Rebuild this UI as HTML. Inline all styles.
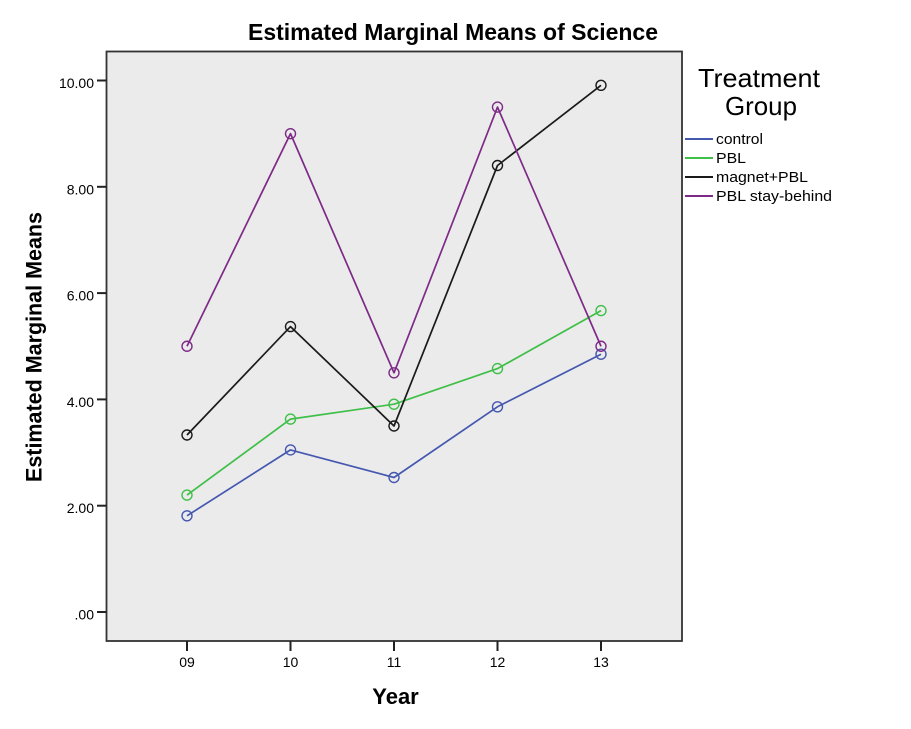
<!DOCTYPE html>
<html>
<head>
<meta charset="utf-8">
<style>
  html, body { margin:0; padding:0; background:#ffffff; }
  svg { display:block; }
  text { font-family: "Liberation Sans", Arial, sans-serif; fill:#000; }
</style>
</head>
<body>
<svg width="911" height="729" viewBox="0 0 911 729" xmlns="http://www.w3.org/2000/svg">
  <rect x="0" y="0" width="911" height="729" fill="#ffffff"/>

  <!-- Title -->
  <text x="453" y="40" font-size="23" font-weight="bold" text-anchor="middle" textLength="410" lengthAdjust="spacingAndGlyphs">Estimated Marginal Means of Science</text>

  <!-- Plot area -->
  <rect x="106.5" y="51.5" width="575.5" height="589.5" fill="#ebebeb" stroke="#333333" stroke-width="1.8"/>

  <!-- Y ticks -->
  <g stroke="#222" stroke-width="2">
    <line x1="97" y1="80.5" x2="106.5" y2="80.5"/>
    <line x1="97" y1="186.8" x2="106.5" y2="186.8"/>
    <line x1="97" y1="293.1" x2="106.5" y2="293.1"/>
    <line x1="97" y1="399.4" x2="106.5" y2="399.4"/>
    <line x1="97" y1="505.7" x2="106.5" y2="505.7"/>
    <line x1="97" y1="612" x2="106.5" y2="612"/>
  </g>
  <g font-size="14" text-anchor="end">
    <text x="94" y="88">10.00</text>
    <text x="94" y="194.3">8.00</text>
    <text x="94" y="300.6">6.00</text>
    <text x="94" y="406.9">4.00</text>
    <text x="94" y="513.2">2.00</text>
    <text x="94" y="619.5">.00</text>
  </g>

  <!-- X ticks -->
  <g stroke="#222" stroke-width="2">
    <line x1="187" y1="641" x2="187" y2="651"/>
    <line x1="290.5" y1="641" x2="290.5" y2="651"/>
    <line x1="394" y1="641" x2="394" y2="651"/>
    <line x1="497.5" y1="641" x2="497.5" y2="651"/>
    <line x1="601" y1="641" x2="601" y2="651"/>
  </g>
  <g font-size="14" text-anchor="middle">
    <text x="187" y="667">09</text>
    <text x="290.5" y="667">10</text>
    <text x="394" y="667">11</text>
    <text x="497.5" y="667">12</text>
    <text x="601" y="667">13</text>
  </g>

  <!-- Axis titles -->
  <text x="395.5" y="704" font-size="22" font-weight="bold" text-anchor="middle">Year</text>
  <text transform="translate(41.5,347) rotate(-90)" x="0" y="0" font-size="22" font-weight="bold" text-anchor="middle" textLength="270" lengthAdjust="spacingAndGlyphs">Estimated Marginal Means</text>

  <!-- Series -->
  <g fill="none" stroke-width="1.7" stroke-linejoin="round">
    <polyline stroke="#4558b0" points="187,515.8 290.5,449.9 394,477.5 497.5,406.8 601,354.2"/>
    <polyline stroke="#3fbf48" points="187,495.1 290.5,419.1 394,404.2 497.5,368.6 601,310.6"/>
    <polyline stroke="#1a1a1a" points="187,435.0 290.5,326.6 394,426.0 497.5,165.5 601,85.3"/>
    <polyline stroke="#7e2a87" points="187,346.25 290.5,133.65 394,372.8 497.5,107.1 601,346.25"/>
  </g>

  <!-- Markers -->
  <g fill="none" stroke-width="1.4">
    <g stroke="#4558b0">
      <circle cx="187" cy="515.8" r="5"/>
      <circle cx="290.5" cy="449.9" r="5"/>
      <circle cx="394" cy="477.5" r="5"/>
      <circle cx="497.5" cy="406.8" r="5"/>
      <circle cx="601" cy="354.2" r="5"/>
    </g>
    <g stroke="#3fbf48">
      <circle cx="187" cy="495.1" r="5"/>
      <circle cx="290.5" cy="419.1" r="5"/>
      <circle cx="394" cy="404.2" r="5"/>
      <circle cx="497.5" cy="368.6" r="5"/>
      <circle cx="601" cy="310.6" r="5"/>
    </g>
    <g stroke="#1a1a1a">
      <circle cx="187" cy="435.0" r="5"/>
      <circle cx="290.5" cy="326.6" r="5"/>
      <circle cx="394" cy="426.0" r="5"/>
      <circle cx="497.5" cy="165.5" r="5"/>
      <circle cx="601" cy="85.3" r="5"/>
    </g>
    <g stroke="#7e2a87">
      <circle cx="187" cy="346.25" r="5"/>
      <circle cx="290.5" cy="133.65" r="5"/>
      <circle cx="394" cy="372.8" r="5"/>
      <circle cx="497.5" cy="107.1" r="5"/>
      <circle cx="601" cy="346.25" r="5"/>
    </g>
  </g>

  <!-- Legend -->
  <text x="759" y="87" font-size="26" text-anchor="middle" textLength="122" lengthAdjust="spacingAndGlyphs">Treatment</text>
  <text x="761" y="115" font-size="26" text-anchor="middle" textLength="72" lengthAdjust="spacingAndGlyphs">Group</text>

  <g stroke-width="2">
    <line x1="685" y1="139" x2="713" y2="139" stroke="#4558b0"/>
    <line x1="685" y1="158" x2="713" y2="158" stroke="#3fbf48"/>
    <line x1="685" y1="177" x2="713" y2="177" stroke="#1a1a1a"/>
    <line x1="685" y1="196" x2="713" y2="196" stroke="#7e2a87"/>
  </g>
  <g font-size="15">
    <text x="716" y="144" textLength="47" lengthAdjust="spacingAndGlyphs">control</text>
    <text x="716" y="163" textLength="30" lengthAdjust="spacingAndGlyphs">PBL</text>
    <text x="716" y="182" textLength="92" lengthAdjust="spacingAndGlyphs">magnet+PBL</text>
    <text x="716" y="201" textLength="116" lengthAdjust="spacingAndGlyphs">PBL stay-behind</text>
  </g>
</svg>
</body>
</html>
